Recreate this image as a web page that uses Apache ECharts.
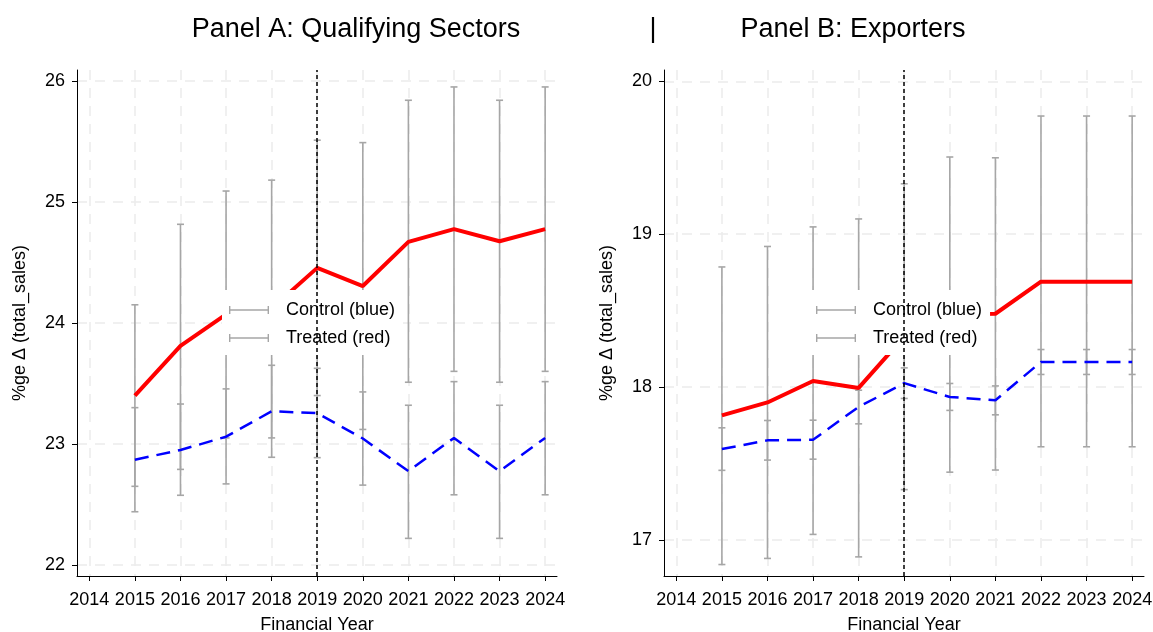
<!DOCTYPE html>
<html>
<head>
<meta charset="utf-8">
<script src="https://cdn.jsdelivr.net/npm/echarts@6/dist/echarts.min.js"></script>
<style>
  html, body { margin: 0; padding: 0; background: #fff; }
  #main { width: 1153px; height: 632px; }
</style>
</head>
<body>
<div id="main"></div>
<script>
// years on the x axis
var years = [2015, 2016, 2017, 2018, 2019, 2020, 2021, 2022, 2023, 2024];
var xTicks = [2014, 2015, 2016, 2017, 2018, 2019, 2020, 2021, 2022, 2023, 2024];
var yTicksA = [22, 23, 24, 25, 26];
var yTicksB = [17, 18, 19, 20];

// Panel A: Qualifying Sectors
var aTreated   = [23.40, 23.81, 24.07, 24.12, 24.455, 24.305, 24.67, 24.775, 24.675, 24.775];
var aTreatedLo = [22.65, 22.79, 23.05, 23.05, 23.40, 23.12, 23.51, 23.60, 23.51, 23.60];
var aTreatedHi = [24.15, 24.815, 25.09, 25.18, 25.51, 25.49, 25.84, 25.95, 25.84, 25.95];
var aControl   = [22.87, 22.95, 23.06, 23.27, 23.255, 23.045, 22.775, 23.05, 22.775, 23.05];
var aControlLo = [22.44, 22.576, 22.67, 22.89, 22.887, 22.66, 22.22, 22.58, 22.22, 22.58];
var aControlHi = [23.30, 23.33, 23.455, 23.65, 23.625, 23.43, 23.32, 23.515, 23.32, 23.515];

// Panel B: Exporters
var bTreated   = [17.815, 17.90, 18.04, 17.995, 18.33, 18.475, 18.48, 18.69, 18.69, 18.69];
var bTreatedLo = [16.84, 16.88, 17.037, 16.89, 17.33, 17.444, 17.458, 17.61, 17.61, 17.61];
var bTreatedHi = [18.786, 18.92, 19.048, 19.10, 19.33, 19.505, 19.50, 19.773, 19.773, 19.773];
var bControl   = [17.595, 17.652, 17.656, 17.871, 18.026, 17.936, 17.914, 18.165, 18.165, 18.165];
var bControlLo = [17.456, 17.523, 17.529, 17.76, 17.926, 17.848, 17.819, 18.083, 18.083, 18.083];
var bControlHi = [17.734, 17.782, 17.784, 17.98, 18.126, 18.024, 18.008, 18.246, 18.246, 18.246];

var FONT = 'Liberation Sans, Arial, Helvetica, sans-serif';
var GREY = '#a6a6a6';
var GRIDLINE = { show: true, lineStyle: { color: '#ebebeb', type: [10, 8], width: 1.5 } };
var ICON = 'path://M0,3.2h40v1.6h-40z M0,0h1.4v8h-1.4z M38.6,0h1.4v8h-1.4z';

function pairs(vals) {
  return years.map(function (y, i) { return [y, vals[i]]; });
}
function ranges(lo, hi) {
  return years.map(function (y, i) { return [y, lo[i], hi[i]]; });
}

// vertical bar with caps
function errorBar(params, api) {
  var x = api.value(0);
  var lo = api.coord([x, api.value(1)]);
  var hi = api.coord([x, api.value(2)]);
  var w = 3.5;
  var st = { stroke: GREY, lineWidth: 1.6 };
  return {
    type: 'group',
    children: [
      { type: 'line', shape: { x1: lo[0], y1: lo[1], x2: hi[0], y2: hi[1] }, style: st },
      { type: 'line', shape: { x1: lo[0] - w, y1: lo[1], x2: lo[0] + w, y2: lo[1] }, style: st },
      { type: 'line', shape: { x1: hi[0] - w, y1: hi[1], x2: hi[0] + w, y2: hi[1] }, style: st }
    ]
  };
}

function xAxisFor(idx) {
  return {
    type: 'value', gridIndex: idx, min: 2013.73, max: 2024.26,
    name: 'Financial Year', nameLocation: 'middle', nameGap: 40,
    nameTextStyle: { fontFamily: FONT, fontSize: 18, color: '#000' },
    axisLine: { lineStyle: { color: '#000', width: 1 } },
    axisTick: { length: 5, lineStyle: { color: '#000' }, customValues: xTicks },
    axisLabel: { customValues: xTicks, fontFamily: FONT, fontSize: 18, color: '#000', margin: 15,
      formatter: function (v) { return String(v); } },
    splitLine: GRIDLINE
  };
}
function yAxisFor(idx, min, max, ticks) {
  return {
    type: 'value', gridIndex: idx, min: min, max: max,
    name: '%ge \u0394 (total_sales)', nameLocation: 'middle', nameGap: 48,
    nameTextStyle: { fontFamily: FONT, fontSize: 18, color: '#000' },
    axisLine: { show: true, lineStyle: { color: '#000', width: 1 } },
    axisTick: { show: true, length: 5, lineStyle: { color: '#000' }, customValues: ticks },
    axisLabel: { customValues: ticks, fontFamily: FONT, fontSize: 18, color: '#000', margin: 12 },
    splitLine: GRIDLINE
  };
}
function legendFor(left) {
  return {
    orient: 'vertical', left: left, top: 290,
    backgroundColor: '#fff', padding: [11, 8, 8, 7], itemGap: 10,
    itemWidth: 44, itemHeight: 8, icon: ICON,
    textStyle: { fontFamily: FONT, fontSize: 18, color: '#000', padding: [0, 0, 0, 10] },
    data: [
      { name: 'Control (blue)', itemStyle: { color: GREY } },
      { name: 'Treated (red)', itemStyle: { color: GREY } }
    ]
  };
}
function panelSeries(idx, tr, trLo, trHi, co, coLo, coHi) {
  return [
    { name: 'Control (blue)', type: 'custom', xAxisIndex: idx, yAxisIndex: idx,
      itemStyle: { color: GREY }, renderItem: errorBar, encode: { x: 0, y: [1, 2] },
      data: ranges(coLo, coHi), z: 2 },
    { name: 'Treated (red)', type: 'custom', xAxisIndex: idx, yAxisIndex: idx,
      itemStyle: { color: GREY }, renderItem: errorBar, encode: { x: 0, y: [1, 2] },
      data: ranges(trLo, trHi), z: 2,
      markLine: { silent: true, symbol: 'none', label: { show: false },
        lineStyle: { color: '#000', type: [4, 3], width: 1.5 },
        data: [{ xAxis: 2019 }] } },
    { name: 'treated line', type: 'line', xAxisIndex: idx, yAxisIndex: idx,
      data: pairs(tr), showSymbol: false, z: 3,
      lineStyle: { color: '#ff0000', width: 4 } },
    { name: 'control line', type: 'line', xAxisIndex: idx, yAxisIndex: idx,
      data: pairs(co), showSymbol: false, z: 3,
      lineStyle: { color: '#0000ff', width: 2.5, type: [14, 8] } }
  ];
}

var chart = echarts.init(document.getElementById('main'));
var titleStyle = { fontFamily: FONT, fontSize: 27, fontWeight: 'normal', color: '#000' };
chart.setOption({
  animation: false,
  backgroundColor: '#fff',
  title: [
    { text: 'Panel A: Qualifying Sectors', left: 351, top: 11, textAlign: 'center', textStyle: titleStyle },
    { text: '|', left: 648, top: 11, textAlign: 'center', textStyle: titleStyle },
    { text: 'Panel B: Exporters', left: 848, top: 11, textAlign: 'center', textStyle: titleStyle }
  ],
  legend: [legendFor(222), legendFor(809)],
  grid: [
    { left: 77, top: 70, width: 480, height: 506, outerBoundsMode: 'none' },
    { left: 664, top: 70, width: 480, height: 506, outerBoundsMode: 'none' }
  ],
  xAxis: [xAxisFor(0), xAxisFor(1)],
  yAxis: [yAxisFor(0, 21.909, 26.09, yTicksA), yAxisFor(1, 16.765, 20.074, yTicksB)],
  series: panelSeries(0, aTreated, aTreatedLo, aTreatedHi, aControl, aControlLo, aControlHi)
    .concat(panelSeries(1, bTreated, bTreatedLo, bTreatedHi, bControl, bControlLo, bControlHi))
});
</script>
</body>
</html>
